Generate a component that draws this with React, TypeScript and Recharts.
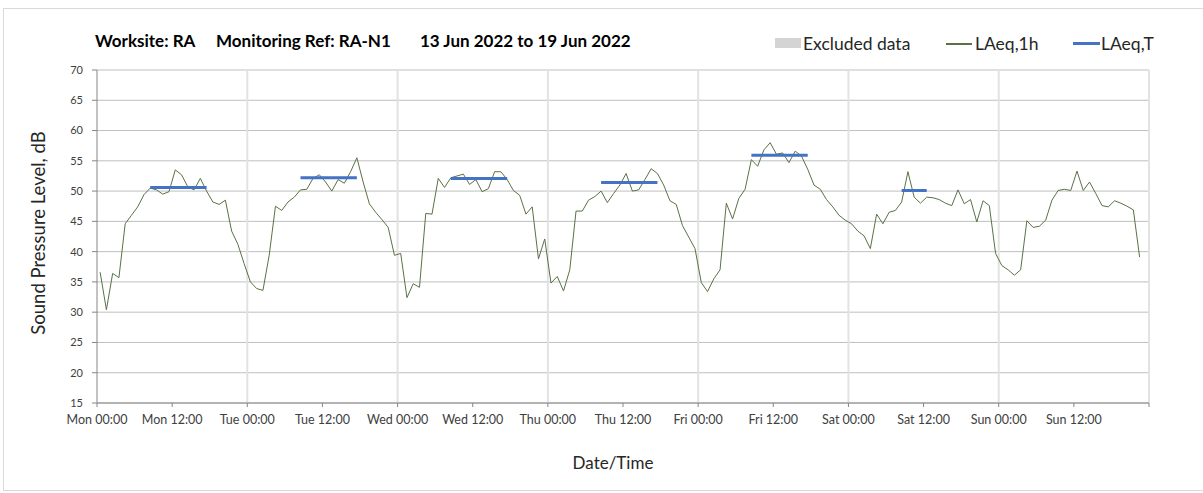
import React from 'react';
import { ComposedChart, Line, XAxis, YAxis, CartesianGrid, ReferenceLine } from 'recharts';

const dayNames = ['Mon', 'Tue', 'Wed', 'Thu', 'Fri', 'Sat', 'Sun'];

// LAeq,1h in dB, one value per hour starting at 00:00
const monLevels = [36.6, 30.4, 36.4, 35.7, 44.6, 46.0, 47.4, 49.4, 50.5, 50.2, 49.5, 49.9, 53.5, 52.7, 50.7, 50.2, 52.1, 50.0, 48.2, 47.8, 48.5, 43.4, 41.2, 38.0];
const tueLevels = [35.0, 33.9, 33.6, 39.4, 47.5, 46.8, 48.2, 49.0, 50.2, 50.3, 52.1, 52.7, 51.5, 50.0, 51.9, 51.3, 53.2, 55.5, 51.5, 47.9, 46.5, 45.3, 44.0, 39.4];
const wedLevels = [39.7, 32.4, 34.7, 34.1, 46.3, 46.2, 52.1, 50.6, 52.2, 52.5, 52.8, 51.1, 51.9, 49.9, 50.4, 53.2, 53.2, 51.9, 50.1, 49.3, 46.2, 47.4, 38.8, 42.1];
const thuLevels = [34.8, 35.9, 33.5, 37.0, 46.7, 46.7, 48.5, 49.1, 50.0, 48.1, 49.6, 51.0, 52.9, 50.0, 50.2, 51.9, 53.7, 52.9, 51.0, 48.4, 47.8, 44.3, 42.4, 40.5];
const friLevels = [34.9, 33.4, 35.5, 37.0, 48.0, 45.4, 48.8, 50.3, 55.2, 54.1, 56.8, 58.0, 56.1, 56.3, 54.7, 56.6, 55.8, 53.6, 51.0, 50.3, 48.6, 47.4, 46.0, 45.2];
const satLevels = [44.6, 43.4, 42.6, 40.5, 46.2, 44.6, 46.5, 46.8, 48.2, 53.2, 49.0, 48.0, 49.0, 48.9, 48.6, 48.0, 47.6, 50.2, 47.9, 48.6, 44.9, 48.4, 47.6, 39.7];
const sunLevels = [37.7, 37.0, 36.1, 37.0, 45.1, 44.0, 44.2, 45.2, 48.5, 50.1, 50.3, 50.1, 53.3, 50.1, 51.5, 49.6, 47.6, 47.4, 48.4, 48.0, 47.5, 46.9, 39.1];

// LAeq,T over each day's assessment period (first and last hour)
const periodDays = ['Mon', 'Tue', 'Wed', 'Thu', 'Fri', 'Sat'];
const periodLevels = [50.6, 52.2, 52.1, 51.4, 55.9, 50.1];
const periodFirstHour = [8, 8, 8, 8, 8, 8];
const periodLastHour = [17, 17, 17, 17, 17, 12];

const yTicks = [15, 20, 25, 30, 35, 40, 45, 50, 55, 60, 65, 70];
const xTicks = [0, 12, 24, 36, 48, 60, 72, 84, 96, 108, 120, 132, 144, 156, 168];
const dayLines = [24, 48, 72, 96, 120, 144, 168];

const data = [monLevels, tueLevels, wedLevels, thuLevels, friLevels, satLevels, sunLevels].flatMap((levels, d) =>
    levels.map((v, h) => {
        const p = periodDays.indexOf(dayNames[d]);
        const inPeriod = p >= 0 && h >= periodFirstHour[p] && h <= periodLastHour[p];
        return { t: d * 24 + h + 0.5, la1h: v, laT: inPeriod ? periodLevels[p] : null };
    })
);

const formatTime = (t: number) => {
    if (t >= 168) return '';
    return `${dayNames[Math.floor(t / 24)]} ${t % 24 === 0 ? '00:00' : '12:00'}`;
};

const font = 'Lato, "Liberation Sans", sans-serif';

const App: React.FC = () => {
    return (
        <div style={{ position: 'absolute', left: 0, top: 0, width: 1203, height: 493, background: '#fff', fontFamily: font, overflow: 'hidden' }}>
            <div style={{ position: 'absolute', left: 3, top: 8, width: 1210, height: 481, border: '1px solid #d9d9d9' }} />
            <ComposedChart width={1203} height={493} data={data} margin={{ top: 70, right: 54, bottom: 60, left: 57 }}>
                <CartesianGrid vertical={false} stroke="#bfbfbf" />
                {dayLines.map((x) => (
                    <ReferenceLine key={x} x={x} stroke="#e2e2e2" strokeWidth={2} />
                ))}
                <XAxis
                    type="number"
                    dataKey="t"
                    domain={[0, 168]}
                    ticks={xTicks}
                    interval={0}
                    tickFormatter={formatTime}
                    tickSize={4}
                    tickMargin={8}
                    height={30}
                    stroke="#868686"
                    tick={{ fill: '#404040', fontSize: 12.5, fontFamily: font }}
                />
                <YAxis
                    type="number"
                    domain={[15, 70]}
                    ticks={yTicks}
                    interval={0}
                    tickSize={5}
                    tickMargin={9}
                    width={40}
                    stroke="#868686"
                    tick={{ fill: '#404040', fontSize: 11, fontFamily: font }}
                />
                <Line type="linear" dataKey="la1h" stroke="#587245" strokeWidth={1} dot={false} isAnimationActive={false} />
                <Line type="linear" dataKey="laT" stroke="#4472C4" strokeWidth={3} dot={false} isAnimationActive={false} />
            </ComposedChart>

            <div style={{ position: 'absolute', top: 30, left: 95, fontSize: 17, fontWeight: 700, color: '#000', whiteSpace: 'pre' }}>
                <span>Worksite: RA</span>
                <span style={{ position: 'absolute', left: 121 }}>Monitoring Ref: RA-N1</span>
                <span style={{ position: 'absolute', left: 325 }}>13 Jun 2022 to 19 Jun 2022</span>
            </div>

            <div style={{ position: 'absolute', top: 33, left: 0, fontSize: 17.5, color: '#262626' }}>
                <div style={{ position: 'absolute', left: 775, top: 5, width: 26, height: 10, background: '#d4d4d4' }} />
                <span style={{ position: 'absolute', left: 803, whiteSpace: 'nowrap' }}>Excluded data</span>
                <div style={{ position: 'absolute', left: 946, top: 10, width: 26, height: 1.5, background: '#587245' }} />
                <span style={{ position: 'absolute', left: 975, whiteSpace: 'nowrap' }}>LAeq,1h</span>
                <div style={{ position: 'absolute', left: 1073, top: 9, width: 27, height: 3, background: '#4472C4' }} />
                <span style={{ position: 'absolute', left: 1101, whiteSpace: 'nowrap' }}>LAeq,T</span>
            </div>

            <div style={{ position: 'absolute', left: 38, top: 233, transform: 'translate(-50%, -50%) rotate(-90deg)', fontSize: 18.5, color: '#262626', whiteSpace: 'nowrap' }}>
                Sound Pressure Level, dB
            </div>
            <div style={{ position: 'absolute', left: 613, top: 462, transform: 'translate(-50%, -50%)', fontSize: 17, color: '#262626', whiteSpace: 'nowrap' }}>
                Date/Time
            </div>
        </div>
    );
};

export default App;
